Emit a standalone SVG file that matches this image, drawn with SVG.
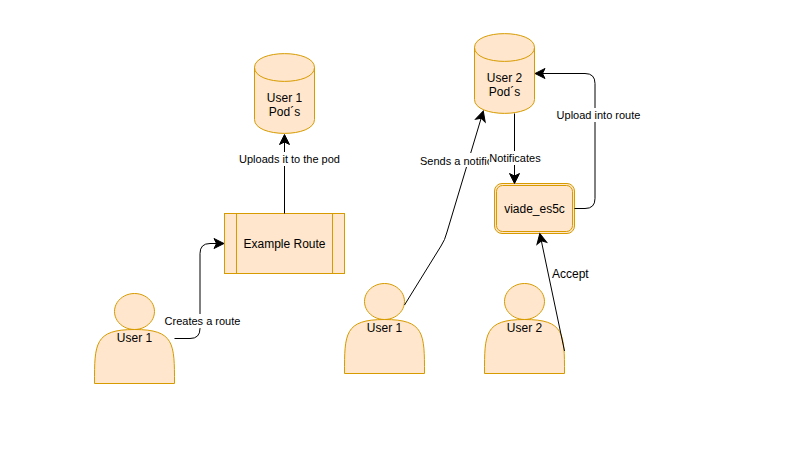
<svg xmlns="http://www.w3.org/2000/svg" width="799" height="461" viewBox="0 0 799 461">
<defs>
<marker id="arrow" markerUnits="userSpaceOnUse" markerWidth="12" markerHeight="12" refX="9" refY="5" orient="auto" overflow="visible"><path d="M0 0L10 5L0 10L2.5 5Z" fill="#000" stroke="#000" stroke-width="1"/></marker>
<path id="actor" d="M0 90C0 50 0 36 40 36C80 36 80 50 80 90ZM40 0A20 18 0 1 1 39.99 0Z"/>
</defs>
<style>
.s{fill:#ffe6cc;stroke:#d79b00;stroke-width:1}
.l{fill:none;stroke:#d79b00;stroke-width:1}
.c{fill:none;stroke:#000;stroke-width:1}
text{font-family:"Liberation Sans",Arial,sans-serif;font-size:12px;fill:#000;text-anchor:middle}
.e{font-size:11px}
.bg{fill:#fff;stroke:none}
</style>
<rect width="799" height="461" fill="#fff"/>
<g id="user1-left"><use href="#actor" x="94.5" y="293.5" class="s"/><text x="134.5" y="342">User 1</text></g>
<g id="example-route"><rect x="224.5" y="213.5" width="120" height="60" class="s"/><path d="M236.5 213.5V273.5M332.5 213.5V273.5" class="l"/><text x="284.5" y="248">Example Route</text></g>
<g id="pod1"><path d="M254.5 67.5C254.5 49 314.5 49 314.5 67.5V119.5C314.5 138 254.5 138 254.5 119.5Z" class="s"/><path d="M254.5 67.5C254.5 86 314.5 86 314.5 67.5" class="l"/><text x="284.5" y="102">User 1</text><text x="284.5" y="116">Pod´s</text></g>
<g id="pod2"><path d="M474.5 47.5C474.5 29 534.5 29 534.5 47.5V99.5C534.5 118 474.5 118 474.5 99.5Z" class="s"/><path d="M474.5 47.5C474.5 66 534.5 66 534.5 47.5" class="l"/><text x="504.5" y="82">User 2</text><text x="504.5" y="96">Pod´s</text></g>
<g id="viade"><rect x="494.5" y="183.5" width="80" height="50" rx="7.5" class="s"/><rect x="496.5" y="185.5" width="76" height="46" rx="6" class="l"/><text x="534.5" y="213">viade_es5c</text></g>
<g id="user1-right"><use href="#actor" x="344.5" y="283.5" class="s"/><text x="384.5" y="332">User 1</text></g>
<g id="user2"><use href="#actor" x="484.5" y="283.5" class="s"/><text x="524.5" y="332">User 2</text></g>
<g id="connectors">
<path d="M174.5 338.500H190Q200 338.500 200 328.500V253.500Q200 243.500 210 243.500H223" class="c" marker-end="url(#arrow)"/>
<path d="M284.500 213.500V135.500" class="c" marker-end="url(#arrow)"/>
<path d="M404.500 305L441 246Q445 240 447 232L483 112" class="c" marker-end="url(#arrow)"/>
<path d="M514.500 113.500V182.500" class="c" marker-end="url(#arrow)"/>
<path d="M574.500 208.500H585Q595 208.500 595 198.500V83.500Q595 73.500 585 73.500H536" class="c" marker-end="url(#arrow)"/>
<path d="M564.500 351L540 234.500" class="c" marker-end="url(#arrow)"/>
<rect x="164" y="314" width="77" height="14" class="bg"/><text x="202.500" y="325" class="e">Creates a route</text>
<rect x="238" y="152" width="103" height="14" class="bg"/><text x="289.500" y="163" class="e">Uploads it to the pod</text>
<rect x="420" y="153" width="70" height="14" class="bg"/><text x="420" y="164.500" class="e" style="text-anchor:start">Sends a notific</text>
<rect x="489" y="151" width="52" height="14" class="bg"/><text x="515" y="162" class="e">Notificates</text>
<rect x="556" y="108" width="85" height="14" class="bg"/><text x="598.500" y="119" class="e">Upload into route</text>
<rect x="551" y="266" width="38" height="15" class="bg"/><text x="570.300" y="278">Accept</text>
</g>
</svg>
